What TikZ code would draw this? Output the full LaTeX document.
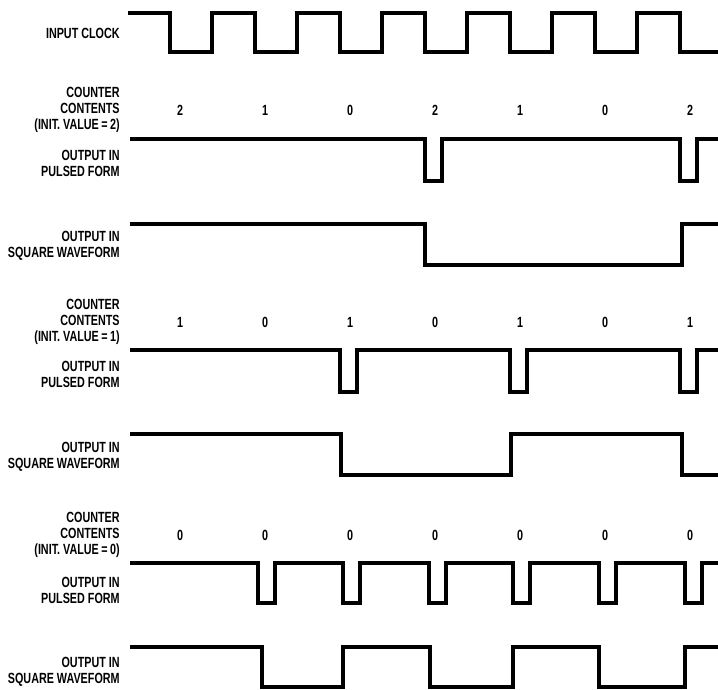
\documentclass[tikz,border=0pt]{standalone}
\usepackage{fontspec}
\setmainfont{Liberation Sans}[FakeStretch=0.73]
\usepackage{tikz}
\usetikzlibrary{positioning}

\begin{document}
\begin{tikzpicture}[
  x=0.02cm, y=-0.02cm,
  wave/.style={draw=black, line width=2.1pt, line join=miter},
  lbl/.style={anchor=east, align=right, inner sep=0pt, font=\fontsize{8.4}{9.2}\selectfont\bfseries},
  digit/.style={inner sep=0pt, font=\fontsize{8.4}{9.2}\selectfont\bfseries}
]
\useasboundingbox (0,0) rectangle (718,690);

% ---------------------------------------------------
% Grid
% ---------------------------------------------------
\def\xLbl{120}
\def\xStart{130}
\def\xEnd{718}

\def\yCountA{110}
\def\yCountB{322}
\def\yCountC{535}

% ---------------------------------------------------
% Input clock
% ---------------------------------------------------
\node[lbl] (clk) at (\xLbl,33) {INPUT CLOCK};
\draw[wave] (128,13) foreach \k in {0,...,5} { -| ({170+85*\k},52) -| ({212+85*\k},13) } -| (680,52) -- (\xEnd,52);

% ---------------------------------------------------
% Counter, initial value 2
% ---------------------------------------------------
\node[lbl] (cntA) at (\xLbl,\yCountA) {COUNTER\\CONTENTS\\(INIT. VALUE\,=\,2)};
\foreach \v [count=\i from 0] in {2,1,0,2,1,0,2}
  \node[digit] (dA\i) at ({180+85*\i},\yCountA) {\v};

\node[lbl] (pulA) at (\xLbl,163) {OUTPUT IN\\PULSED FORM};
\draw[wave] (\xStart,139) foreach \p in {425,680} { -| (\p,181) -| ({\p+17},139) } -- (\xEnd,139);

\node[lbl] (sqA) at (\xLbl,246) {OUTPUT IN\\SQUARE WAVEFORM};
\draw[wave] (\xStart,224) -| (425,265) -| (682,224) -- (\xEnd,224);

% ---------------------------------------------------
% Counter, initial value 1
% ---------------------------------------------------
\node[lbl] (cntB) at (\xLbl,\yCountB) {COUNTER\\CONTENTS\\(INIT. VALUE\,=\,1)};
\foreach \v [count=\i from 0] in {1,0,1,0,1,0,1}
  \node[digit] (dB\i) at ({180+85*\i},\yCountB) {\v};

\node[lbl] (pulB) at (\xLbl,374) {OUTPUT IN\\PULSED FORM};
\draw[wave] (\xStart,350) foreach \p in {340,510,680} { -| (\p,392) -| ({\p+17},350) } -- (\xEnd,350);

\node[lbl] (sqB) at (\xLbl,457) {OUTPUT IN\\SQUARE WAVEFORM};
\draw[wave] (\xStart,434) -| (341,475) -| (511,434) -| (682,475) -- (\xEnd,475);

% ---------------------------------------------------
% Counter, initial value 0
% ---------------------------------------------------
\node[lbl] (cntC) at (\xLbl,\yCountC) {COUNTER\\CONTENTS\\(INIT. VALUE\,=\,0)};
\foreach \v [count=\i from 0] in {0,0,0,0,0,0,0}
  \node[digit] (dC\i) at ({180+85*\i},\yCountC) {\v};

\node[lbl] (pulC) at (\xLbl,590) {OUTPUT IN\\PULSED FORM};
\draw[wave] (\xStart,563) foreach \p in {258,343,429,513,599,685} { -| (\p,603) -| ({\p+17},563) } -- (\xEnd,563);

\node[lbl] (sqC) at (\xLbl,672) {OUTPUT IN\\SQUARE WAVEFORM};
\draw[wave] (\xStart,647) -| (262,687) -| (343,647) -| (430,687) -| (513,647) -| (599,687) -| (685,647) -- (\xEnd,647);

\end{tikzpicture}
\end{document}
